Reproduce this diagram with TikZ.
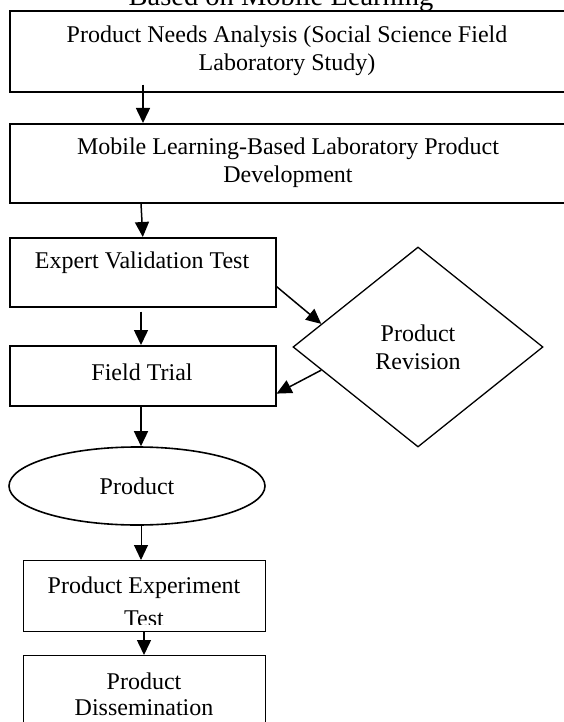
\documentclass[tikz,border=0pt]{standalone}
\usepackage{fontspec}
\setmainfont{Liberation Serif}
\usetikzlibrary{arrows.meta}
\usetikzlibrary{shapes.geometric}
\usetikzlibrary{calc}

\begin{document}
\begin{tikzpicture}[x=1pt,y=-1pt,
  box/.style={draw,line width=1.6pt,rectangle,inner sep=0pt,anchor=north west},
  lowbox/.style={draw,line width=1.2pt,rectangle,inner sep=0pt,anchor=north west},
  lbl/.style={align=center,inner sep=0pt,font=\fontsize{24}{28}\selectfont},
  arr/.style={line width=1.5pt,-{Triangle[length=15pt,width=14pt]}}]
  \useasboundingbox (0,0) rectangle (563,722);

  \node[font=\fontsize{28.5}{30}\selectfont,anchor=base,inner sep=0pt] (title) at (281,6) {Based on Mobile Learning};

  % upper boxes run past the right margin
  \node[box,minimum width=575pt,minimum height=81pt] (needs) at (9,10) {};
  \node[lbl] (needstxt) at (287,51) {Product Needs Analysis (Social Science Field\\Laboratory Study)};
  \node[box,minimum width=575pt,minimum height=79pt] (dev) at (9,123) {};
  \node[lbl] (devtxt) at (288,163) {Mobile Learning-Based Laboratory Product\\Development};

  \node[box,minimum width=266pt,minimum height=69pt] (expert) at (9,237) {};
  \node[lbl] (experttxt) at (142,263) {Expert Validation Test};
  \node[box,minimum width=266pt,minimum height=60pt] (trial) at (9,345) {};
  \node[lbl] (trialtxt) at (142,372) {Field Trial};

  \node[draw,line width=1.3pt,diamond,inner sep=0pt,minimum width=250pt,minimum height=200pt,
        align=center,font=\fontsize{24}{28}\selectfont] (revision) at (418,347) {Product\\Revision};

  \node[draw,line width=1.6pt,ellipse,inner sep=0pt,minimum width=256pt,minimum height=78pt,
        font=\fontsize{24}{28}\selectfont] (product) at (137,486) {Product};

  \node[lowbox,minimum width=242pt,minimum height=71pt] (expbox) at (23,560) {};
  \begin{scope}
    \clip (expbox.north west) rectangle ([yshift=8pt]expbox.south east);
    \node[lbl,font=\fontsize{24}{33}\selectfont] (exptxt) at (144,602) {Product Experiment\\Test};
  \end{scope}
  \node[lowbox,minimum width=242pt,minimum height=80pt] (dissem) at (23,655) {};
  \node[lbl,font=\fontsize{24}{26}\selectfont] (dissemtxt) at (144,694) {Product\\Dissemination};

  \draw[arr] ([xshift=134pt,yshift=8pt]needs.south west) -- ([xshift=134pt]dev.north west);
  \draw[arr] ([xshift=132pt]dev.south west) -- (expert.north);
  \draw[arr] ([xshift=132pt,yshift=-4pt]expert.south west) -- ([xshift=132pt]trial.north west);
  \draw[arr] ([yshift=21pt]expert.south east) -- ($(revision.west)!0.23!(revision.north)$);
  \draw[arr] ($(revision.west)!0.23!(revision.south)$) -- ([yshift=13pt]trial.south east);
  \draw[arr] ([xshift=132pt]trial.south west) -- ([xshift=4pt]product.north);
  \draw[arr,line width=1pt] ([xshift=4pt]product.south) -- ([xshift=118pt]expbox.north west);
  \draw[arr] ([xshift=121pt]expbox.south west) -- ([xshift=121pt]dissem.north west);
\end{tikzpicture}
\end{document}
